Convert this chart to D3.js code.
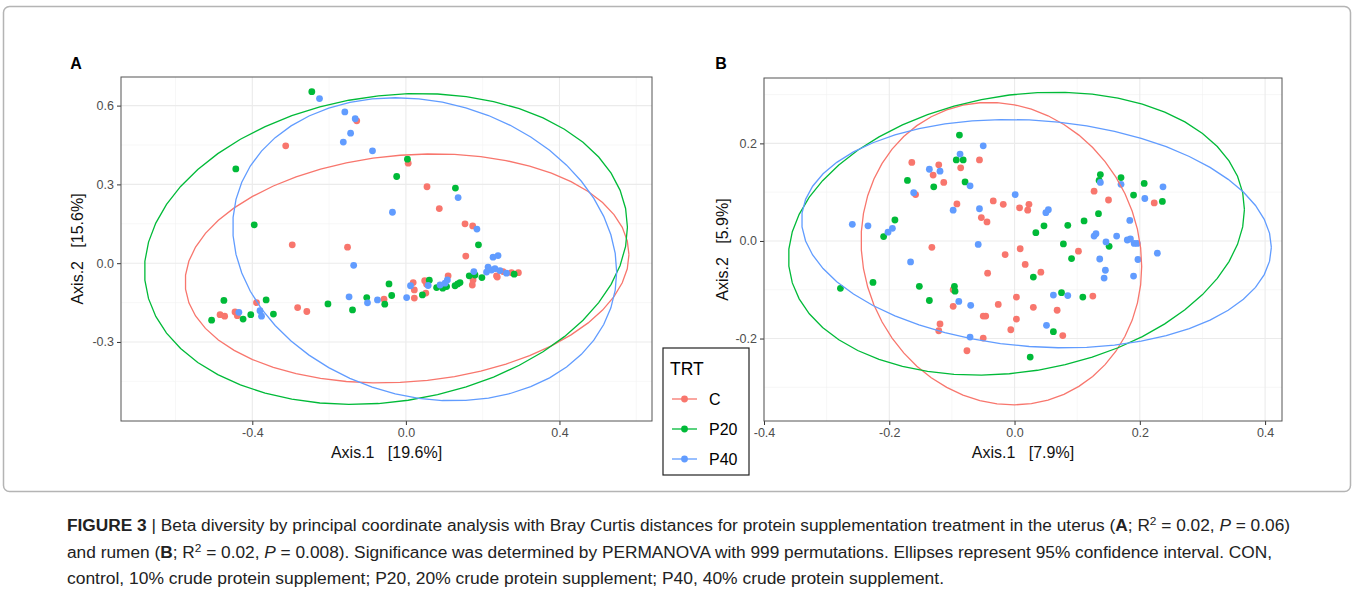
<!DOCTYPE html>
<html>
<head>
<meta charset="utf-8">
<script src="https://cdn.jsdelivr.net/npm/d3@7"></script>
<style>
  body { margin: 0; background: #fff; }
  svg { display: block; font-family: "Liberation Sans", Arial, sans-serif; }
  .pre { white-space: pre; }
</style>
</head>
<body>
<svg id="fig" width="1355" height="594"></svg>
<script>
// treatment groups and ggplot default hues
const groups = ["C", "P20", "P40"];
const colours = ["#F8766D", "#00BA38", "#619CFF"];

// ---- panel A : uterus, PCoA coordinates [Axis.1, Axis.2] ----
const uterusC = [
  [-0.128,0.542],[-0.313,0.447],[-0.296,0.070],[-0.152,0.061],[0.006,0.381],[0.055,0.291],
  [0.087,0.208],[0.154,0.150],[0.174,0.142],[0.156,0.027],[0.175,-0.064],[0.173,-0.083],
  [0.236,-0.048],[0.238,-0.053],[0.253,-0.032],[0.275,-0.036],[0.293,-0.036],[-0.057,-0.137],
  [0.019,-0.074],[0.022,-0.102],[0.022,-0.133],[0.049,-0.067],[0.054,-0.080],[0.052,-0.114],
  [0.110,-0.048],[-0.484,-0.196],[-0.472,-0.202],[-0.445,-0.186],[-0.439,-0.200],[-0.389,-0.150],
  [-0.282,-0.169],[-0.258,-0.184]
];
const uterusP20 = [
  [-0.245,0.653],[-0.443,0.359],[-0.395,0.146],[0.004,0.396],[-0.024,0.330],[0.129,0.286],
  [0.189,0.070],[0.165,-0.048],[0.180,-0.045],[0.198,-0.055],[0.282,-0.042],[-0.102,-0.131],
  [-0.055,-0.156],[-0.044,-0.079],[-0.037,-0.123],[0.061,-0.065],[0.043,-0.121],[0.080,-0.093],
  [0.096,-0.095],[0.106,-0.089],[0.128,-0.086],[0.135,-0.079],[0.141,-0.074],[-0.474,-0.142],
  [-0.506,-0.217],[-0.424,-0.213],[-0.404,-0.196],[-0.364,-0.140],[-0.345,-0.194],[-0.203,-0.155],
  [-0.139,-0.178]
];
const uterusP40 = [
  [-0.225,0.627],[-0.159,0.576],[-0.132,0.550],[-0.144,0.495],[-0.163,0.461],[-0.087,0.428],
  [0.136,0.250],[-0.035,0.194],[0.185,0.130],[0.227,0.023],[0.240,0.029],[0.177,-0.032],
  [0.214,-0.015],[0.223,-0.026],[0.232,-0.021],[0.245,-0.028],[0.262,-0.038],[0.210,-0.034],
  [-0.100,-0.151],[-0.074,-0.140],[0.002,-0.131],[0.012,-0.086],[0.058,-0.085],[0.089,-0.083],
  [0.102,-0.076],[0.108,-0.064],[-0.435,-0.187],[-0.380,-0.181],[-0.376,-0.202],[-0.136,-0.008],
  [-0.148,-0.128]
];
// 95% ellipses: centre, half extents, shape correlation
const uterusEllipses = [
  { trt: "C",   cx: 0.003,  cy: -0.020, hx: 0.578, hy: 0.436, r: 0.12 },
  { trt: "P20", cx: -0.052, cy: 0.054,  hx: 0.629, hy: 0.592, r: 0.14 },
  { trt: "P40", cx: 0.049,  cy: 0.053,  hx: 0.500, hy: 0.577, r: -0.15 }
];

// ---- panel B : rumen ----
const rumenC = [
  [-0.164,0.161],[-0.121,0.156],[-0.056,0.166],[-0.130,0.135],[-0.086,0.150],[-0.113,0.120],
  [-0.158,0.095],[-0.034,0.082],[-0.018,0.075],[0.008,0.068],[-0.092,0.076],[-0.053,0.048],
  [-0.044,0.039],[-0.132,-0.013],[-0.015,-0.028],[0.009,-0.016],[-0.043,-0.066],[-0.098,-0.100],
  [-0.098,-0.134],[-0.026,-0.130],[0.003,-0.115],[-0.050,-0.154],[-0.046,-0.154],[0.003,-0.160],
  [-0.119,-0.170],[-0.121,-0.184],[-0.006,-0.182],[-0.050,-0.199],[-0.076,-0.225],[0.023,0.075],
  [0.021,0.063],[0.127,0.102],[0.150,0.084],[0.223,0.078],[0.102,-0.021],[0.017,-0.048],
  [0.042,-0.064],[0.125,-0.113],[0.030,-0.136],[0.068,-0.142],[0.077,-0.194]
];
const rumenP20 = [
  [-0.088,0.217],[-0.093,0.166],[-0.082,0.166],[-0.171,0.124],[-0.079,0.121],[-0.129,0.111],
  [-0.191,0.043],[-0.209,0.009],[-0.226,-0.085],[-0.278,-0.097],[-0.152,-0.093],[-0.096,-0.093],
  [-0.095,-0.103],[-0.136,-0.122],[0.034,0.017],[0.047,0.031],[0.085,0.032],[0.111,0.041],
  [0.134,0.056],[0.137,0.136],[0.135,0.124],[0.170,0.130],[0.207,0.118],[0.190,0.094],
  [0.236,0.081],[0.151,-0.011],[0.078,-0.006],[0.091,-0.036],[0.030,-0.074],[0.075,-0.106],
  [0.109,-0.115],[0.062,-0.186],[0.025,-0.238]
];
const rumenP40 = [
  [-0.050,0.195],[-0.087,0.178],[-0.136,0.147],[-0.119,0.143],[-0.071,0.113],[-0.161,0.099],
  [0.001,0.095],[-0.098,0.063],[-0.056,0.066],[-0.259,0.034],[-0.234,0.031],[-0.195,0.026],
  [-0.202,0.018],[-0.058,-0.007],[-0.166,-0.043],[-0.089,-0.124],[-0.070,-0.132],[-0.071,-0.197],
  [0.050,0.058],[0.054,0.064],[0.137,0.120],[0.170,0.116],[0.237,0.111],[0.208,0.087],
  [0.184,0.042],[0.127,0.010],[0.130,0.015],[0.163,0.010],[0.146,-0.002],[0.180,0.002],
  [0.185,0.004],[0.191,-0.005],[0.196,-0.005],[0.228,-0.025],[0.136,-0.037],[0.197,-0.038],
  [0.145,-0.060],[0.143,-0.076],[0.190,-0.072],[0.062,-0.111],[0.085,-0.112],[0.051,-0.173]
];
const rumenEllipses = [
  { trt: "C",   cx: -0.021, cy: -0.026, hx: 0.224, hy: 0.310, r: -0.085 },
  { trt: "P20", cx: 0.003,  cy: 0.015,  hx: 0.364, hy: 0.290, r: 0.17 },
  { trt: "P40", cx: 0.035,  cy: 0.015,  hx: 0.375, hy: 0.234, r: -0.12 }
];

// tick labels
const xTicksA = [-0.4, 0, 0.4];
const yTicksA = [-0.3, 0, 0.3, 0.6];
const xTicksB = [-0.4, -0.2, 0, 0.2, 0.4];
const yTicksB = [-0.2, 0, 0.2];

const svg = d3.select("#fig");
const colour = d3.scaleOrdinal(groups, colours);
const fmt = d => Math.abs(d) < 1e-9 ? "0.0" : d.toFixed(1);

// figure frame
svg.append("rect")
  .attr("x", 3.5).attr("y", 6.5).attr("width", 1347).attr("height", 485).attr("rx", 6)
  .attr("fill", "none").attr("stroke", "#b4b4b4").attr("stroke-width", 1.5);

function minorOf(ticks) {
  const step = ticks[1] - ticks[0];
  const out = [];
  for (let i = -1; i < ticks.length; i++) out.push(ticks[0] + step * (i + 0.5));
  return out;
}

function panel(conf) {
  const x = d3.scaleLinear().domain(conf.xDomain).range([conf.left, conf.right]);
  const y = d3.scaleLinear().domain(conf.yDomain).range([conf.bottom, conf.top]);
  const g = svg.append("g");

  const xIn = v => v >= conf.xDomain[0] && v <= conf.xDomain[1];
  const yIn = v => v >= conf.yDomain[0] && v <= conf.yDomain[1];

  // grid, minor then major
  g.selectAll(".xminor").data(minorOf(conf.xTicks).filter(xIn)).join("line")
    .attr("x1", d => x(d)).attr("x2", d => x(d)).attr("y1", conf.top).attr("y2", conf.bottom)
    .attr("stroke", "#f2f2f2").attr("stroke-width", 0.6);
  g.selectAll(".yminor").data(minorOf(conf.yTicks).filter(yIn)).join("line")
    .attr("y1", d => y(d)).attr("y2", d => y(d)).attr("x1", conf.left).attr("x2", conf.right)
    .attr("stroke", "#f2f2f2").attr("stroke-width", 0.6);
  g.selectAll(".xmajor").data(conf.xTicks.filter(xIn)).join("line")
    .attr("x1", d => x(d)).attr("x2", d => x(d)).attr("y1", conf.top).attr("y2", conf.bottom)
    .attr("stroke", "#ebebeb").attr("stroke-width", 1.1);
  g.selectAll(".ymajor").data(conf.yTicks.filter(yIn)).join("line")
    .attr("y1", d => y(d)).attr("y2", d => y(d)).attr("x1", conf.left).attr("x2", conf.right)
    .attr("stroke", "#ebebeb").attr("stroke-width", 1.1);

  // points
  conf.series.forEach((pts, i) => {
    g.append("g").selectAll("circle").data(pts).join("circle")
      .attr("cx", d => x(d[0])).attr("cy", d => y(d[1])).attr("r", 3.4)
      .attr("fill", colour(groups[i]));
  });

  // ellipses
  const line = d3.line().x(d => x(d[0])).y(d => y(d[1]));
  conf.ellipses.forEach(e => {
    const phi = Math.acos(e.r);
    const pts = d3.range(52).map(k => {
      const t = 2 * Math.PI * k / 51;
      return [e.cx + e.hx * Math.cos(t), e.cy + e.hy * Math.cos(t - phi)];
    });
    g.append("path").attr("d", line(pts)).attr("fill", "none")
      .attr("stroke", colour(e.trt)).attr("stroke-width", 1.3);
  });

  // axes
  const xAxis = g.append("g").attr("transform", "translate(0," + conf.bottom + ")")
    .call(d3.axisBottom(x).tickValues(conf.xTicks).tickSize(4).tickPadding(3).tickFormat(fmt));
  const yAxis = g.append("g").attr("transform", "translate(" + conf.left + ",0)")
    .call(d3.axisLeft(y).tickValues(conf.yTicks).tickSize(4).tickPadding(3).tickFormat(fmt));
  [xAxis, yAxis].forEach(a => {
    a.select(".domain").remove();
    a.selectAll(".tick line").attr("stroke", "#333").attr("stroke-width", 1);
    a.selectAll(".tick text").attr("fill", "#4d4d4d").style("font-size", "12.5px")
      .style("font-family", "'Liberation Sans', Arial, sans-serif");
  });

  // border
  g.append("rect").attr("x", conf.left).attr("y", conf.top)
    .attr("width", conf.right - conf.left).attr("height", conf.bottom - conf.top)
    .attr("fill", "none").attr("stroke", "#555").attr("stroke-width", 1);

  // titles
  g.append("text").attr("class", "pre").attr("x", (conf.left + conf.right) / 2).attr("y", conf.bottom + 37)
    .attr("text-anchor", "middle").style("font-size", "16px").attr("fill", "#111").text(conf.xTitle);
  g.append("text").attr("class", "pre")
    .attr("transform", "translate(" + conf.yTitleX + "," + (conf.top + conf.bottom) / 2 + ") rotate(-90)")
    .attr("text-anchor", "middle").attr("dy", "0.35em").style("font-size", "16px").attr("fill", "#111")
    .text(conf.yTitle);
  g.append("text").attr("x", conf.tagX).attr("y", 69).attr("text-anchor", "middle")
    .style("font-size", "16px").style("font-weight", "bold").text(conf.tag);
}

panel({
  tag: "A", tagX: 76,
  left: 121, right: 652, top: 77, bottom: 421,
  xDomain: [-0.742, 0.641], yDomain: [-0.601, 0.709],
  xTicks: xTicksA, yTicks: yTicksA,
  series: [uterusC, uterusP20, uterusP40], ellipses: uterusEllipses,
  xTitle: "Axis.1   [19.6%]", yTitle: "Axis.2   [15.6%]", yTitleX: 77
});

panel({
  tag: "B", tagX: 721,
  left: 764, right: 1282, top: 78, bottom: 421,
  xDomain: [-0.4, 0.427], yDomain: [-0.369, 0.334],
  xTicks: xTicksB, yTicks: yTicksB,
  series: [rumenC, rumenP20, rumenP40], ellipses: rumenEllipses,
  xTitle: "Axis.1   [7.9%]", yTitle: "Axis.2   [5.9%]", yTitleX: 722
});

// legend
const leg = svg.append("g").attr("transform", "translate(663,348)");
leg.append("rect").attr("width", 86).attr("height", 127).attr("fill", "#fff")
  .attr("stroke", "#222").attr("stroke-width", 1.2);
leg.append("text").attr("x", 7).attr("y", 27).style("font-size", "17.5px").text("TRT");
const key = d3.scaleBand().domain(groups).range([36, 126]);
groups.forEach(gname => {
  const cy = key(gname) + key.bandwidth() / 2;
  leg.append("line").attr("x1", 9).attr("x2", 34).attr("y1", cy).attr("y2", cy)
    .attr("stroke", colour(gname)).attr("stroke-width", 1.3);
  leg.append("circle").attr("cx", 21.5).attr("cy", cy).attr("r", 3.4).attr("fill", colour(gname));
  leg.append("text").attr("x", 46).attr("y", cy).attr("dy", "0.36em").style("font-size", "16px").text(gname);
});

// caption
const cap = svg.append("g").style("font-family", "'Liberation Sans Narrow', 'Liberation Sans', Arial, sans-serif")
  .style("font-size", "16px").attr("fill", "#222");
function capLine(y, width, parts) {
  const t = cap.append("text").attr("x", 67).attr("y", y).attr("class", "pre")
    .attr("textLength", width).attr("lengthAdjust", "spacingAndGlyphs");
  parts.forEach(p => {
    const s = t.append("tspan").text(p.t);
    if (p.b) s.style("font-weight", "bold");
    if (p.i) s.style("font-style", "italic");
    if (p.sup) s.attr("dy", -6).style("font-size", "11px");
    if (p.after) s.attr("dy", 6);
  });
}
capLine(531, 1223, [
  { t: "FIGURE 3", b: true },
  { t: " | Beta diversity by principal coordinate analysis with Bray Curtis distances for protein supplementation treatment in the uterus (" },
  { t: "A", b: true }, { t: "; R" }, { t: "2", sup: true }, { t: " = 0.02, ", after: true },
  { t: "P", i: true }, { t: " = 0.06)" }
]);
capLine(558, 1205, [
  { t: "and rumen (" }, { t: "B", b: true }, { t: "; R" }, { t: "2", sup: true },
  { t: " = 0.02, ", after: true }, { t: "P", i: true },
  { t: " = 0.008). Significance was determined by PERMANOVA with 999 permutations. Ellipses represent 95% confidence interval. CON," }
]);
capLine(584, 877, [
  { t: "control, 10% crude protein supplement; P20, 20% crude protein supplement; P40, 40% crude protein supplement." }
]);
</script>
</body>
</html>
